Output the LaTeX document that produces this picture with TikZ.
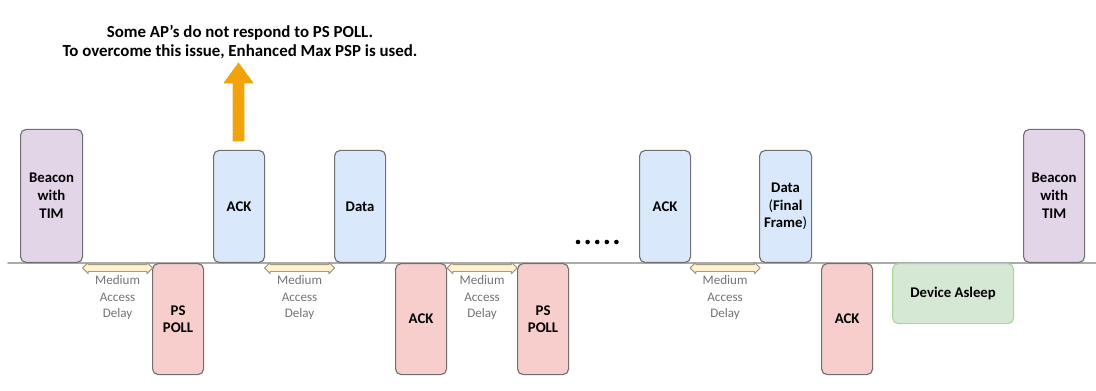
\documentclass[tikz,border=0pt]{standalone}
\usepackage{fontspec}
\setmainfont{Carlito}
\usetikzlibrary{shapes.arrows,positioning,calc}
\definecolor{bcnfill}{HTML}{E1D5E7}
\definecolor{upfill}{HTML}{DAE8FC}
\definecolor{downfill}{HTML}{F8CECC}
\definecolor{sleepfill}{HTML}{D5E8D4}
\definecolor{sleepline}{HTML}{ABD49A}
\definecolor{boxline}{HTML}{6F6F6F}
\definecolor{dlyfill}{HTML}{FFF2CC}
\definecolor{dlyline}{HTML}{A09A86}
\definecolor{warnarrow}{HTML}{F0A30A}
\definecolor{axisgray}{HTML}{AAAAAA}
\begin{document}
\begin{tikzpicture}[x=0.025cm, y=0.025cm, line join=round, line cap=round,
	font=\bfseries\fontsize{10.5}{12.6}\selectfont,
	frame/.style={draw=boxline, line width=0.8pt, rounded corners=4pt, align=center, inner sep=0pt,
		minimum width=1.275cm},
	up/.style={frame, fill=upfill, minimum height=2.8cm, anchor=south west},
	down/.style={frame, fill=downfill, minimum height=2.775cm, anchor=north west},
	beacon/.style={frame, fill=bcnfill, minimum width=1.55cm, minimum height=3.325cm, anchor=south west},
	delay/.style={double arrow, draw=dlyline, fill=dlyfill, line width=0.7pt, minimum height=1.75cm,
		inner sep=0.075cm, double arrow head extend=0.055cm, double arrow head indent=0pt},
	dlytext/.style={font=\fontsize{9.3}{12}\selectfont, text=black!55, align=center, inner sep=0pt}]
	\useasboundingbox (0,-127) rectangle (1096,263);
	\draw[axisgray, line width=1.4pt] (8,0)--(1096,0);
	% frames above and below the line
	\node[beacon] (bcn1) at (20,0) {Beacon\\with\\TIM};
	\node[down] (poll1) at (152,0) {PS\\POLL};
	\node[up] (ack1) at (213,0) {ACK};
	\node[up] (data1) at (334,0) {Data};
	\node[down] (ack2) at (395,0) {ACK};
	\node[down] (poll2) at (517,0) {PS\\POLL};
	\node[up] (ack3) at (639,0) {ACK};
	\node[up, minimum width=1.3cm] (final) at (759,0) {Data\\{\mdseries(}Final\\Frame{\mdseries)}};
	\node[down] (ack4) at (821,0) {ACK};
	\node[frame, draw=sleepline, fill=sleepfill, minimum width=3.025cm, minimum height=1.5cm,
		anchor=north west] (sleep) at (892,0) {Device Asleep};
	\node[beacon, minimum width=1.525cm] (bcn2) at (1023,0) {Beacon\\with\\TIM};
	% medium access delay
	\node[delay] (dly1) at ($(bcn1.south east)!.5!(poll1.north west)+(0,-5)$) {};
	\node[delay] (dly2) at ($(ack1.south east)!.5!(data1.south west)+(0,-5)$) {};
	\node[delay] (dly3) at ($(ack2.north east)!.5!(poll2.north west)+(0,-5)$) {};
	\node[delay] (dly4) at ($(ack3.south east)!.5!(final.south west)+(0,-5)$) {};
	\node[dlytext, below=2pt of dly1] {Medium\\Access\\Delay};
	\node[dlytext, below=2pt of dly2] {Medium\\Access\\Delay};
	\node[dlytext, below=2pt of dly3] {Medium\\Access\\Delay};
	\node[dlytext, below=2pt of dly4] {Medium\\Access\\Delay};
	\foreach \i in {0,...,4} \fill (578+\i*9.6,21) circle (2.3);
	% note on the missing response
	\node[font=\bfseries\fontsize{12}{13.5}\selectfont, align=center] (note) at (240,221)
		{Some AP's do not respond to PS POLL.\\To overcome this issue, Enhanced Max PSP is used.};
	\draw[warnarrow, fill=warnarrow, dashed, dash pattern=on 1.5pt off 0.8pt, line width=0.6pt]
		(233,122)--(233,180)--(224,180)--(238.5,200)--(253,180)--(244,180)--(244,122)--cycle;
\end{tikzpicture}
\end{document}
